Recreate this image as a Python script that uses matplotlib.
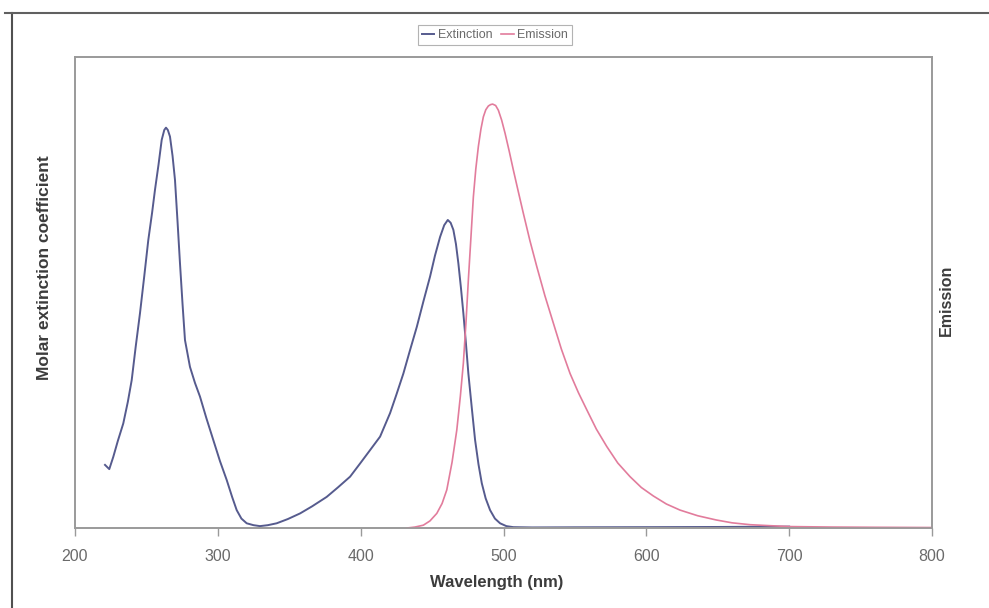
import matplotlib
matplotlib.use("Agg")
import matplotlib.pyplot as plt
from matplotlib.lines import Line2D

plt.rcParams['font.family'] = ['Liberation Sans', 'DejaVu Sans']

# Extinction spectrum (wavelength nm, relative value)
ext_nm = [221, 224, 226.8, 230, 233.8, 237, 239.7, 242.5, 245.5, 248.5, 251.3, 254, 256,
          258.5, 260.7, 262.5, 263.7, 265, 266.5, 268.3, 270, 271.8, 273.5, 275.3, 277,
          280.5, 284, 287.5, 292, 296.8, 301.5, 306.2, 310, 313.2, 316.5, 320.2, 325,
          329.5, 335, 341.2, 349, 357.6, 366, 376.2, 384, 392.6, 399.6, 406, 413.6,
          420.6, 425, 429.9, 434.5, 439.3, 444, 448.6, 452, 455.6, 458.5, 461, 463,
          464.9, 466.7, 468.4, 470.2, 471.9, 473.7, 475.4, 477.8, 480.1, 482.5, 484.8,
          487.5, 490.6, 494, 497.6, 502, 506.9, 520, 550, 600, 650, 700]
ext_val = [0.134, 0.125, 0.151, 0.185, 0.222, 0.268, 0.314, 0.385, 0.456, 0.535, 0.611,
           0.670, 0.718, 0.772, 0.824, 0.845, 0.850, 0.845, 0.831, 0.790, 0.739, 0.650,
           0.562, 0.475, 0.399, 0.342, 0.308, 0.279, 0.233, 0.187, 0.142, 0.102, 0.066,
           0.038, 0.020, 0.010, 0.006, 0.004, 0.006, 0.010, 0.019, 0.031, 0.046, 0.066,
           0.086, 0.109, 0.137, 0.163, 0.194, 0.244, 0.283, 0.328, 0.377, 0.427, 0.482,
           0.534, 0.578, 0.618, 0.643, 0.654, 0.648, 0.633, 0.603, 0.562, 0.510, 0.456,
           0.392, 0.328, 0.255, 0.187, 0.135, 0.095, 0.063, 0.038, 0.020, 0.010, 0.004,
           0.0018, 0.0012, 0.0015, 0.0018, 0.0022, 0.003]

# Emission spectrum (wavelength nm, relative value)
em_nm = [432.5, 438, 443.9, 448.5, 453.3, 457, 460.3, 464, 467.3, 469.8, 471.9, 473.8,
         475.4, 477.2, 478.9, 480.6, 482.4, 484.2, 485.9, 487.6, 489.4, 491, 492.4, 494.5,
         496.4, 498.7, 501.1, 504, 506.9, 510.3, 513.9, 518.5, 523.3, 529, 534.9, 540.5,
         546.6, 552.5, 558.3, 565, 572.3, 580, 588.6, 596.5, 604.9, 614, 623.6, 636,
         649, 660, 672.7, 686, 700.6, 730, 760, 800]
em_val = [0.0, 0.002, 0.006, 0.015, 0.031, 0.052, 0.081, 0.140, 0.208, 0.280, 0.350,
          0.440, 0.527, 0.617, 0.703, 0.762, 0.810, 0.847, 0.873, 0.888, 0.896, 0.899,
          0.900, 0.897, 0.887, 0.866, 0.838, 0.800, 0.760, 0.715, 0.668, 0.610, 0.555,
          0.493, 0.435, 0.380, 0.328, 0.287, 0.251, 0.210, 0.173, 0.138, 0.109, 0.086,
          0.068, 0.051, 0.038, 0.026, 0.017, 0.011, 0.007, 0.005, 0.003, 0.002, 0.0015,
          0.001]

x_ticks = [200, 300, 400, 500, 600, 700, 800]

ext_color = '#565b8e'
em_color = '#e27c9c'
axis_color = '#9a9a9a'
text_gray = '#6a6a6a'
label_color = '#3c3c3c'

fig = plt.figure(figsize=(9.89, 6.08), dpi=100)
fig.patch.set_facecolor('white')
W, H = 989, 608
left, right, top, bottom = 75, 932, 57, 528
ax = fig.add_axes([left / W, 1 - bottom / H, (right - left) / W, (bottom - top) / H])
ax2 = ax.twinx()

l1, = ax.plot(ext_nm, ext_val, color=ext_color, lw=1.4, label='Extinction')
l2, = ax2.plot(em_nm, em_val, color=em_color, lw=1.2, label='Emission')

for a in (ax, ax2):
    a.set_xlim(200, 800)
    a.set_ylim(0, 1.0)
    for s in a.spines.values():
        s.set_color(axis_color)
        s.set_linewidth(1.2)
ax.set_yticks([])
ax2.set_yticks([])
ax.set_xticks(x_ticks)
ax.set_xticklabels([str(t) for t in x_ticks])
ax.tick_params(axis='x', direction='out', length=6, width=1, color=axis_color,
               labelsize=11.5, labelcolor=text_gray, pad=9)

ax.set_xlabel('Wavelength (nm)', fontsize=12, fontweight='bold', color=label_color)
ax.xaxis.set_label_coords((497 - left) / (right - left), -(583 - bottom) / (bottom - top))
ax.xaxis.label.set_verticalalignment('center')
ax.set_ylabel('Molar extinction coefficient', fontsize=12.5, fontweight='bold',
              color=label_color)
ax.yaxis.set_label_coords((45 - left) / (right - left), (bottom - 268) / (bottom - top))
ax.yaxis.label.set_verticalalignment('center')
ax2.set_ylabel('Emission', fontsize=11.5, fontweight='bold', color=label_color)
ax2.yaxis.set_label_coords((946 - left) / (right - left), (bottom - 300) / (bottom - top))
ax2.yaxis.label.set_verticalalignment('center')

leg = fig.legend(handles=[l1, l2], loc='center', bbox_to_anchor=(495 / W, 1 - 35 / H),
                 ncol=2, fontsize=9, frameon=True, fancybox=False, handlelength=1.0,
                 handletextpad=0.3, columnspacing=0.7, borderpad=0.3, labelcolor=text_gray)
leg.get_frame().set_edgecolor('#a0a0a0')
leg.get_frame().set_linewidth(0.8)

# outer frame (left and top edges visible)
fig.add_artist(Line2D([12 / W, 12 / W], [0, 1 - 13 / H], transform=fig.transFigure,
                      color='#505050', lw=1.5))
fig.add_artist(Line2D([5 / W, 1.0], [1 - 13 / H, 1 - 13 / H], transform=fig.transFigure,
                      color='#606060', lw=1.5))

fig.savefig('out.png', dpi=100, facecolor='white')
